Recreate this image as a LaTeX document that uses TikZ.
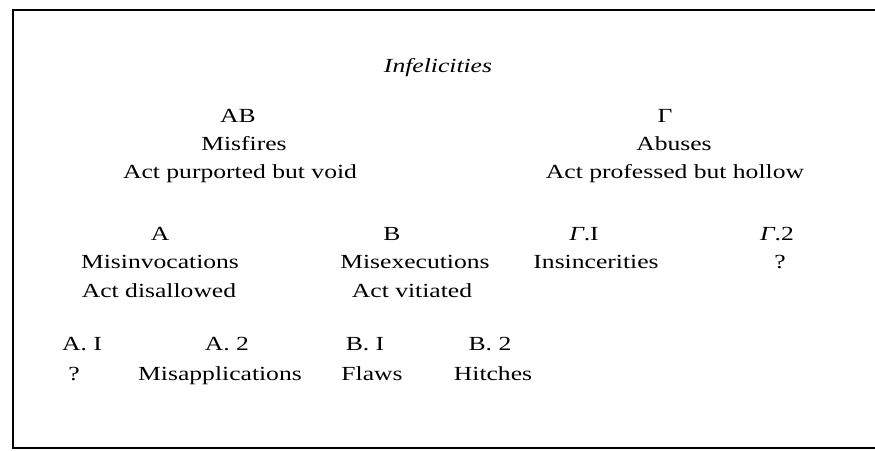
\documentclass[tikz,border=0pt]{standalone}
\usepackage{fontspec}
\setmainfont[FakeStretch=1.28]{Liberation Serif}
\usetikzlibrary{positioning}

\begin{document}
\begin{tikzpicture}[x=1pt, y=-1pt,
  every node/.style={font=\fontsize{20}{24}\selectfont, inner sep=0pt, anchor=base}]
  \useasboundingbox (0,0) rectangle (875,450);
  \draw[line width=2.5pt] (13,10) rectangle (890,448);

  % title
  \node (infel) at (438,72) {\itshape Infelicities};

  % misfires / abuses
  \node (ab) at (238,122) {AB};
  \node (misfires) at (244,150) {Misfires};
  \node (purported) at (240,178) {Act purported but void};
  \node (gamma) at (665,122) {Γ};
  \node (abuses) at (674,150) {Abuses};
  \node (professed) at (675,178) {Act professed but hollow};

  % second level
  \node (a) at (160,240) {A};
  \node (misinv) at (160,268) {Misinvocations};
  \node (disallowed) at (159,297) {Act disallowed};
  \node (b) at (392,240) {B};
  \node (misexec) at (415,268) {Misexecutions};
  \node (vitiated) at (412,297) {Act vitiated};
  \node (gi) at (584,240) {\textit{Γ}.I};
  \node (insinc) at (596,268) {Insincerities};
  \node (gii) at (777,240) {\textit{Γ}.2};
  \node (gq) at (780,268) {?};

  % third level
  \node (ai) at (82,350) {A. I};
  \node (aq) at (74,380) {?};
  \node (aii) at (227,350) {A. 2};
  \node (misapp) at (220,380) {Misapplications};
  \node (bi) at (365,350) {B. I};
  \node (flaws) at (372,380) {Flaws};
  \node (bii) at (490,350) {B. 2};
  \node (hitches) at (493,380) {Hitches};
\end{tikzpicture}
\end{document}
